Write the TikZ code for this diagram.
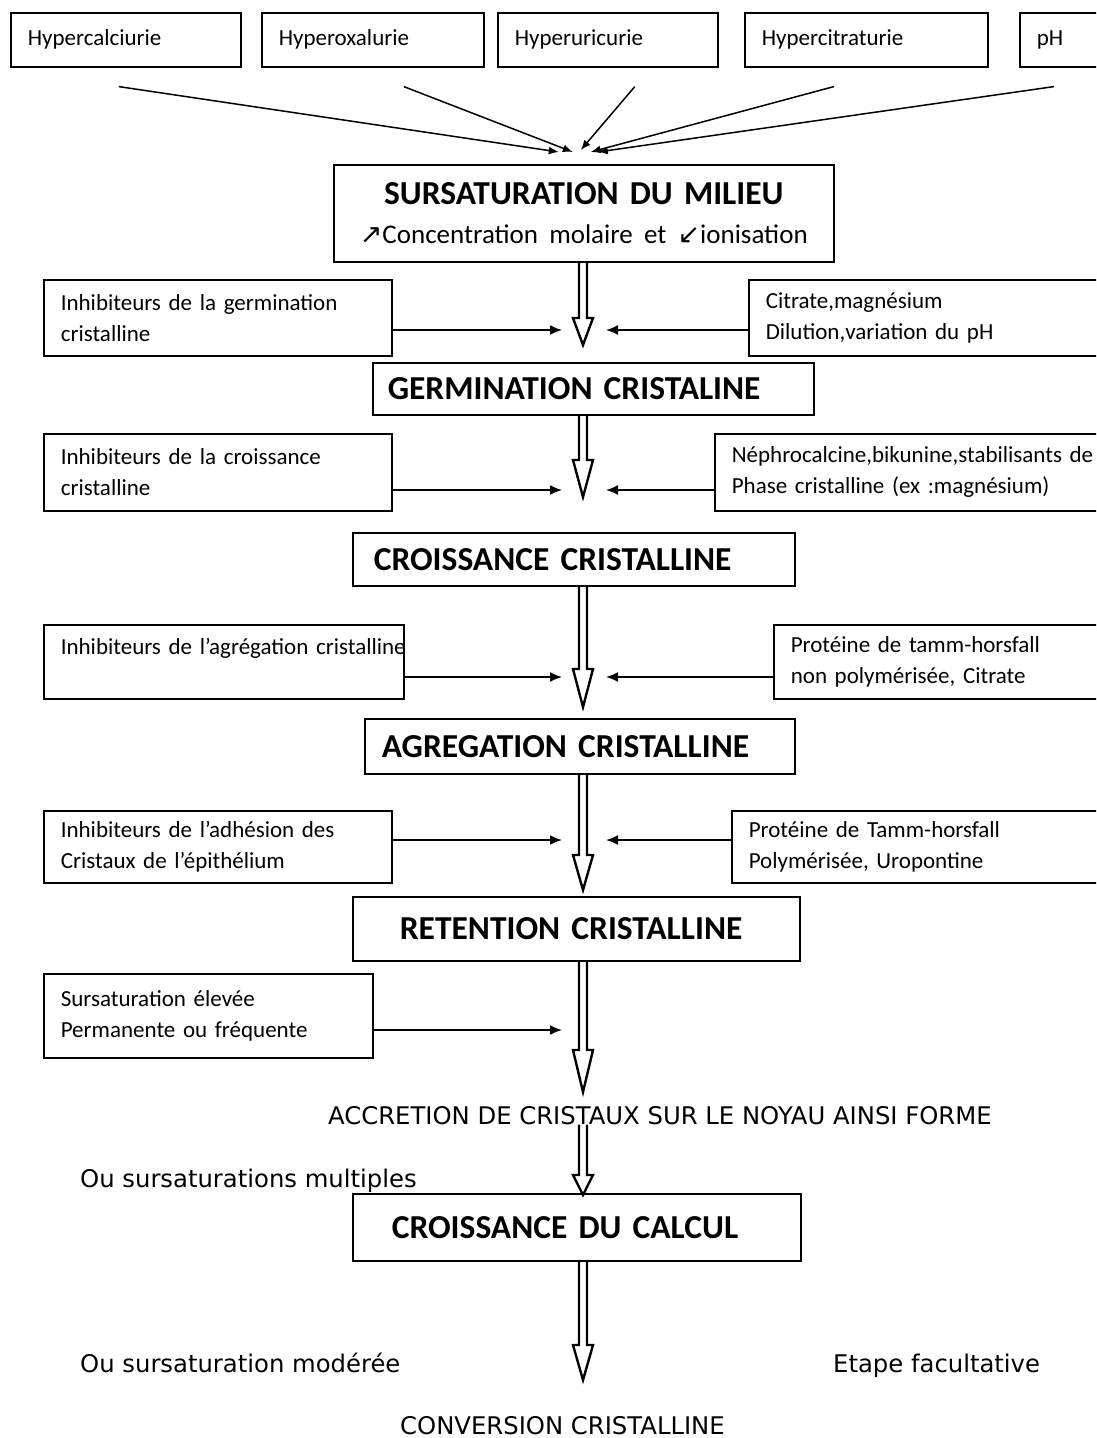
\documentclass[tikz,border=0pt]{standalone}
\usepackage{fontspec}
\setmainfont{Carlito}
\newfontfamily\verdfont{DejaVu Sans}
\usetikzlibrary{arrows.meta}
\usetikzlibrary{calc}

\tikzset{
  box/.style={draw,line width=1.6pt,anchor=north west,align=left,inner xsep=17pt,inner ysep=0pt,font=\fontsize{23}{31}\selectfont},
  stage/.style={draw,line width=1.6pt,anchor=north west,align=left,inner ysep=0pt,font=\fontsize{33.5}{40}\selectfont\bfseries},
  note/.style={anchor=base west,inner sep=0pt,font=\fontsize{24.3}{28}\selectfont\verdfont},
  side/.style={line width=1.7pt,-{Latex[length=12pt,width=10pt]}},
  feed/.style={line width=1.5pt,-{Latex[length=10pt,width=8pt]}},
  flow/.style={line width=2.4pt,line join=miter},
}
% hollow block arrow: start, tip, head length
\newcommand\flowarrow[3]{\draw[flow] let \p1=(#1), \p2=(#2) in
  (\x1-4pt,\y1) -- (\x1-4pt,\y2+#3) -- (\x1-10pt,\y2+#3) -- (\x1,\y2)
  -- (\x1+10pt,\y2+#3) -- (\x1+4pt,\y2+#3) -- (\x1+4pt,\y1);}

\begin{document}
\begin{tikzpicture}[x=1pt,y=-1pt]
\useasboundingbox (0,0) rectangle (1096,1438);
\clip (0,0) rectangle (1096,1438);

% facteurs
\node[box,text width=196pt,minimum height=54pt] (hca) at (10,12) {Hypercalciurie};
\node[box,text width=188pt,minimum height=54pt] (hox) at (261,12) {Hyperoxalurie};
\node[box,text width=186pt,minimum height=54pt] (hur) at (497,12) {Hyperuricurie};
\node[box,text width=209pt,minimum height=54pt] (hci) at (744,12) {Hypercitraturie};
\node[box,text width=80pt,minimum height=54pt] (ph) at (1019,12) {pH};

% etapes
\node[stage,align=center,text width=468pt,inner xsep=16pt,minimum height=97pt] (surs) at (333,164)
  {SURSATURATION DU MILIEU\\[-1pt]{\mdseries\fontsize{27}{32}\selectfont{\verdfont ↗}Concentration molaire et {\verdfont ↙}ionisation}};
\node[stage,text width=411pt,inner xsep=15pt,minimum height=52pt] (germ) at (372,362) {GERMINATION CRISTALINE};
\node[stage,text width=400pt,inner xsep=21pt,minimum height=53pt] (crois) at (352,532) {CROISSANCE CRISTALLINE};
\node[stage,text width=396pt,inner xsep=17pt,minimum height=55pt] (agreg) at (364,718) {AGREGATION CRISTALLINE};
\node[stage,text width=353pt,inner xsep=47pt,minimum height=64pt] (ret) at (352,896) {RETENTION CRISTALLINE};
\node[stage,text width=370pt,inner xsep=39pt,minimum height=67pt] (calc) at (352,1193) {CROISSANCE DU CALCUL};

% inhibiteurs et promoteurs
\node[box,text width=314pt,minimum height=76pt] (inhA) at (43,279) {Inhibiteurs de la germination\\cristalline};
\node[box,text width=314pt,minimum height=77pt] (inhB) at (43,433) {Inhibiteurs de la croissance\\cristalline};
\node[box,text width=326pt,minimum height=74pt] (inhC) at (43,624) {\mbox{Inhibiteurs de l’agrégation cristalline}\\\mbox{}};
\node[box,text width=314pt,minimum height=72pt] (inhD) at (43,810) {Inhibiteurs de l’adhésion des\\Cristaux de l’épithélium};
\node[box,text width=295pt,minimum height=84pt] (sursE) at (43,973) {Sursaturation élevée\\Permanente ou fréquente};

\node[box,text width=348pt,minimum height=76pt] (facA) at (748,279) {Citrate,magnésium\\Dilution,variation du pH};
\node[box,text width=382pt,minimum height=77pt] (facB) at (714,433) {Néphrocalcine,bikunine,stabilisants de\\Phase cristalline (ex :magnésium)};
\node[box,text width=323pt,minimum height=74pt] (facC) at (773,624) {Protéine de tamm-horsfall\\non polymérisée, Citrate};
\node[box,text width=365pt,minimum height=72pt] (facD) at (731,810) {Protéine de Tamm-horsfall\\Polymérisée, Uropontine};

% textes libres
\node[note] (accr) at (328,1124) {ACCRETION DE CRISTAUX SUR LE NOYAU AINSI FORME};
\node[note] (multi) at (80,1187) {Ou sursaturations multiples};
\node[note] (mod) at (80,1372) {Ou sursaturation modérée};
\node[note] (facult) at (833,1372) {Etape facultative};
\node[note] (conv) at (400,1434) {CONVERSION CRISTALLINE};

% pointes des fleches
\coordinate (t1) at (583,345);
\coordinate (t2) at (583,497);
\coordinate (t3) at (583,707);
\coordinate (t4) at (583,890);
\coordinate (t5) at (583,1092);
\coordinate (t6) at (583,1195);
\coordinate (t7) at (583,1380);
\coordinate (m1) at (583,330);
\coordinate (m2) at (583,490);
\coordinate (m3) at (583,677);
\coordinate (m4) at (583,840);
\coordinate (m5) at (583,1030);

\draw[feed] ([shift={(-7,19)}]hca.south) -- ([shift={(-25,-12)}]surs.north);
\draw[feed] ([shift={(31,19)}]hox.south) -- ([shift={(-11,-12)}]surs.north);
\draw[feed] ([shift={(27,19)}]hur.south) -- ([shift={(-3,-14)}]surs.north);
\draw[feed] ([shift={(-32.5,19)}]hci.south) -- ([shift={(7,-12)}]surs.north);
\draw[feed] ([shift={(-23,19)}]ph.south) -- ([shift={(14,-12)}]surs.north);

\flowarrow{surs.south -| t1}{t1}{27pt}
\flowarrow{germ.south -| t2}{t2}{37pt}
\flowarrow{crois.south -| t3}{t3}{38pt}
\flowarrow{agreg.south -| t4}{t4}{35pt}
\flowarrow{ret.south -| t5}{t5}{42pt}
\flowarrow{accr.south -| t6}{t6}{20pt}
\flowarrow{calc.south -| t7}{t7}{35pt}

\draw[side] (inhA.east |- m1) -- ([xshift=-21pt]m1);
\draw[side] (facA.west |- m1) -- ([xshift=23pt]m1);
\draw[side] (inhB.east |- m2) -- ([xshift=-21pt]m2);
\draw[side] (facB.west |- m2) -- ([xshift=23pt]m2);
\draw[side] (inhC.east |- m3) -- ([xshift=-21pt]m3);
\draw[side] (facC.west |- m3) -- ([xshift=23pt]m3);
\draw[side] (inhD.east |- m4) -- ([xshift=-21pt]m4);
\draw[side] (facD.west |- m4) -- ([xshift=23pt]m4);
\draw[side] (sursE.east |- m5) -- ([xshift=-21pt]m5);

\end{tikzpicture}
\end{document}
